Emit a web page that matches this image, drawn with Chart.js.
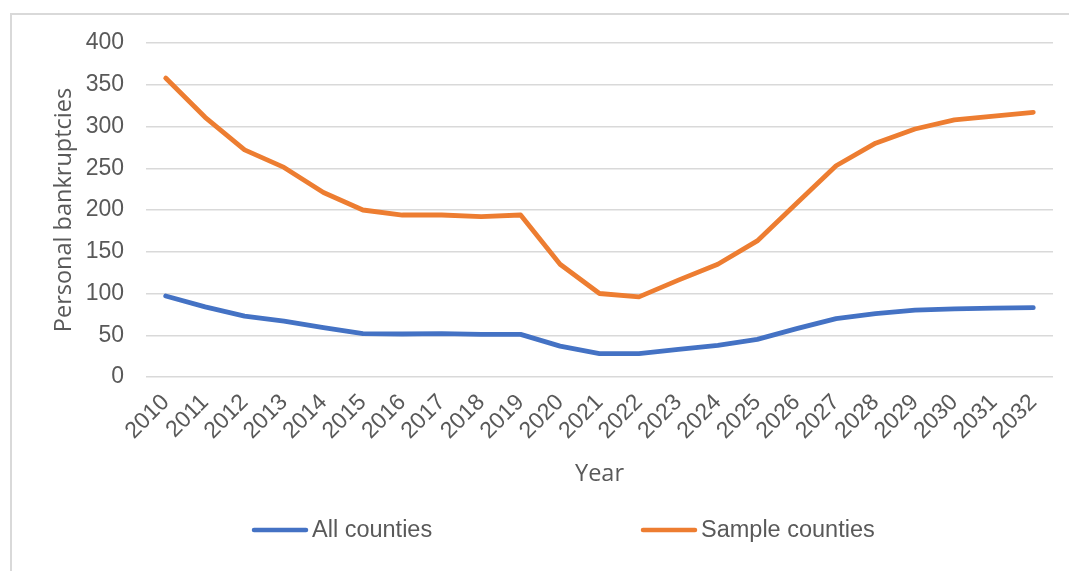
<!DOCTYPE html>
<html>
<head>
<meta charset="utf-8">
<script src="https://cdn.jsdelivr.net/npm/chart.js@4.4.1/dist/chart.umd.min.js"></script>
<style>
  html, body { margin: 0; padding: 0; background: #fff; }
  #wrap { width: 1069px; height: 571px; position: relative; }
</style>
</head>
<body>
<div id="wrap"><canvas id="c" width="1069" height="571"></canvas></div>
<script>
const years = ["2010","2011","2012","2013","2014","2015","2016","2017","2018","2019","2020","2021","2022","2023","2024","2025","2026","2027","2028","2029","2030","2031","2032"];
const allCounties = [97, 84, 73, 67, 59, 52, 51.5, 52, 51, 51, 37, 28, 28, 33, 38, 45, 58, 70, 76, 80, 81.5, 82.5, 83];
const sampleCounties = [358, 311, 272, 251, 221, 200, 194, 194, 192, 194, 135, 100, 96, 116, 135, 163, 208, 253, 280, 297, 308, 312.5, 317];
const seriesNames = ["All counties", "Sample counties"];
const yTitle = "Personal bankruptcies";
const xTitle = "Year";

const TEXT = '#595959';
const GRID = '#d9d9d9';
const tickFont = { family: '"Liberation Sans", Arial, sans-serif', size: 23 };
const titleFont = { family: '"Open Sans", "Noto Sans", sans-serif', size: 23.5 };

const frame = {
  id: 'frame',
  beforeDraw(chart) {
    const ctx = chart.ctx;
    ctx.save();
    ctx.fillStyle = '#fff';
    ctx.fillRect(0, 0, chart.width, chart.height);
    ctx.strokeStyle = GRID;
    ctx.lineWidth = 2;
    ctx.strokeRect(11, 14, 1200, 700);
    ctx.restore();
  }
};

const legendPlugin = {
  id: 'customLegend',
  afterDraw(chart) {
    const ctx = chart.ctx;
    const items = [{ x: 254, ds: 0 }, { x: 643, ds: 1 }];
    const y = 530;
    ctx.save();
    ctx.font = '23.5px "Liberation Sans", Arial, sans-serif';
    ctx.textBaseline = 'middle';
    ctx.textAlign = 'left';
    items.forEach(it => {
      const ds = chart.data.datasets[it.ds];
      ctx.strokeStyle = ds.borderColor;
      ctx.lineWidth = 4.5;
      ctx.lineCap = 'round';
      ctx.beginPath();
      ctx.moveTo(it.x, y);
      ctx.lineTo(it.x + 52, y);
      ctx.stroke();
      ctx.fillStyle = TEXT;
      ctx.fillText(ds.label, it.x + 58, y + 1);
    });
    ctx.restore();
  }
};

new Chart(document.getElementById('c'), {
  type: 'line',
  data: {
    labels: years,
    datasets: [
      { label: seriesNames[0], data: allCounties, borderColor: '#4472C4', backgroundColor: '#4472C4' },
      { label: seriesNames[1], data: sampleCounties, borderColor: '#ED7D31', backgroundColor: '#ED7D31' }
    ]
  },
  options: {
    responsive: false,
    animation: false,
    devicePixelRatio: 1,
    layout: { padding: { left: 0, right: 16, top: 43, bottom: 64 } },
    elements: {
      line: { borderWidth: 4.8, tension: 0, borderCapStyle: 'round', borderJoinStyle: 'round' },
      point: { radius: 0, hoverRadius: 0 }
    },
    plugins: { legend: { display: false }, tooltip: { enabled: false } },
    scales: {
      x: {
        offset: true,
        grid: { display: false, drawTicks: false },
        border: { display: false },
        ticks: { color: TEXT, font: tickFont, autoSkip: false, maxRotation: 45, minRotation: 45, padding: 12 },
        title: { display: true, text: xTitle, color: TEXT, font: titleFont, padding: { top: 0, bottom: 19 } },
        afterFit(scale) { scale.height = 130; }
      },
      y: {
        min: 0, max: 400,
        grid: { color: GRID, lineWidth: 1.5, drawTicks: false },
        border: { display: false },
        ticks: { stepSize: 50, color: TEXT, font: tickFont, padding: 22 },
        title: { display: true, text: yTitle, color: TEXT, font: titleFont, padding: { top: 50, bottom: 0 } },
        afterFit(scale) { scale.width = 146; }
      }
    }
  },
  plugins: [frame, legendPlugin]
});
</script>
</body>
</html>
